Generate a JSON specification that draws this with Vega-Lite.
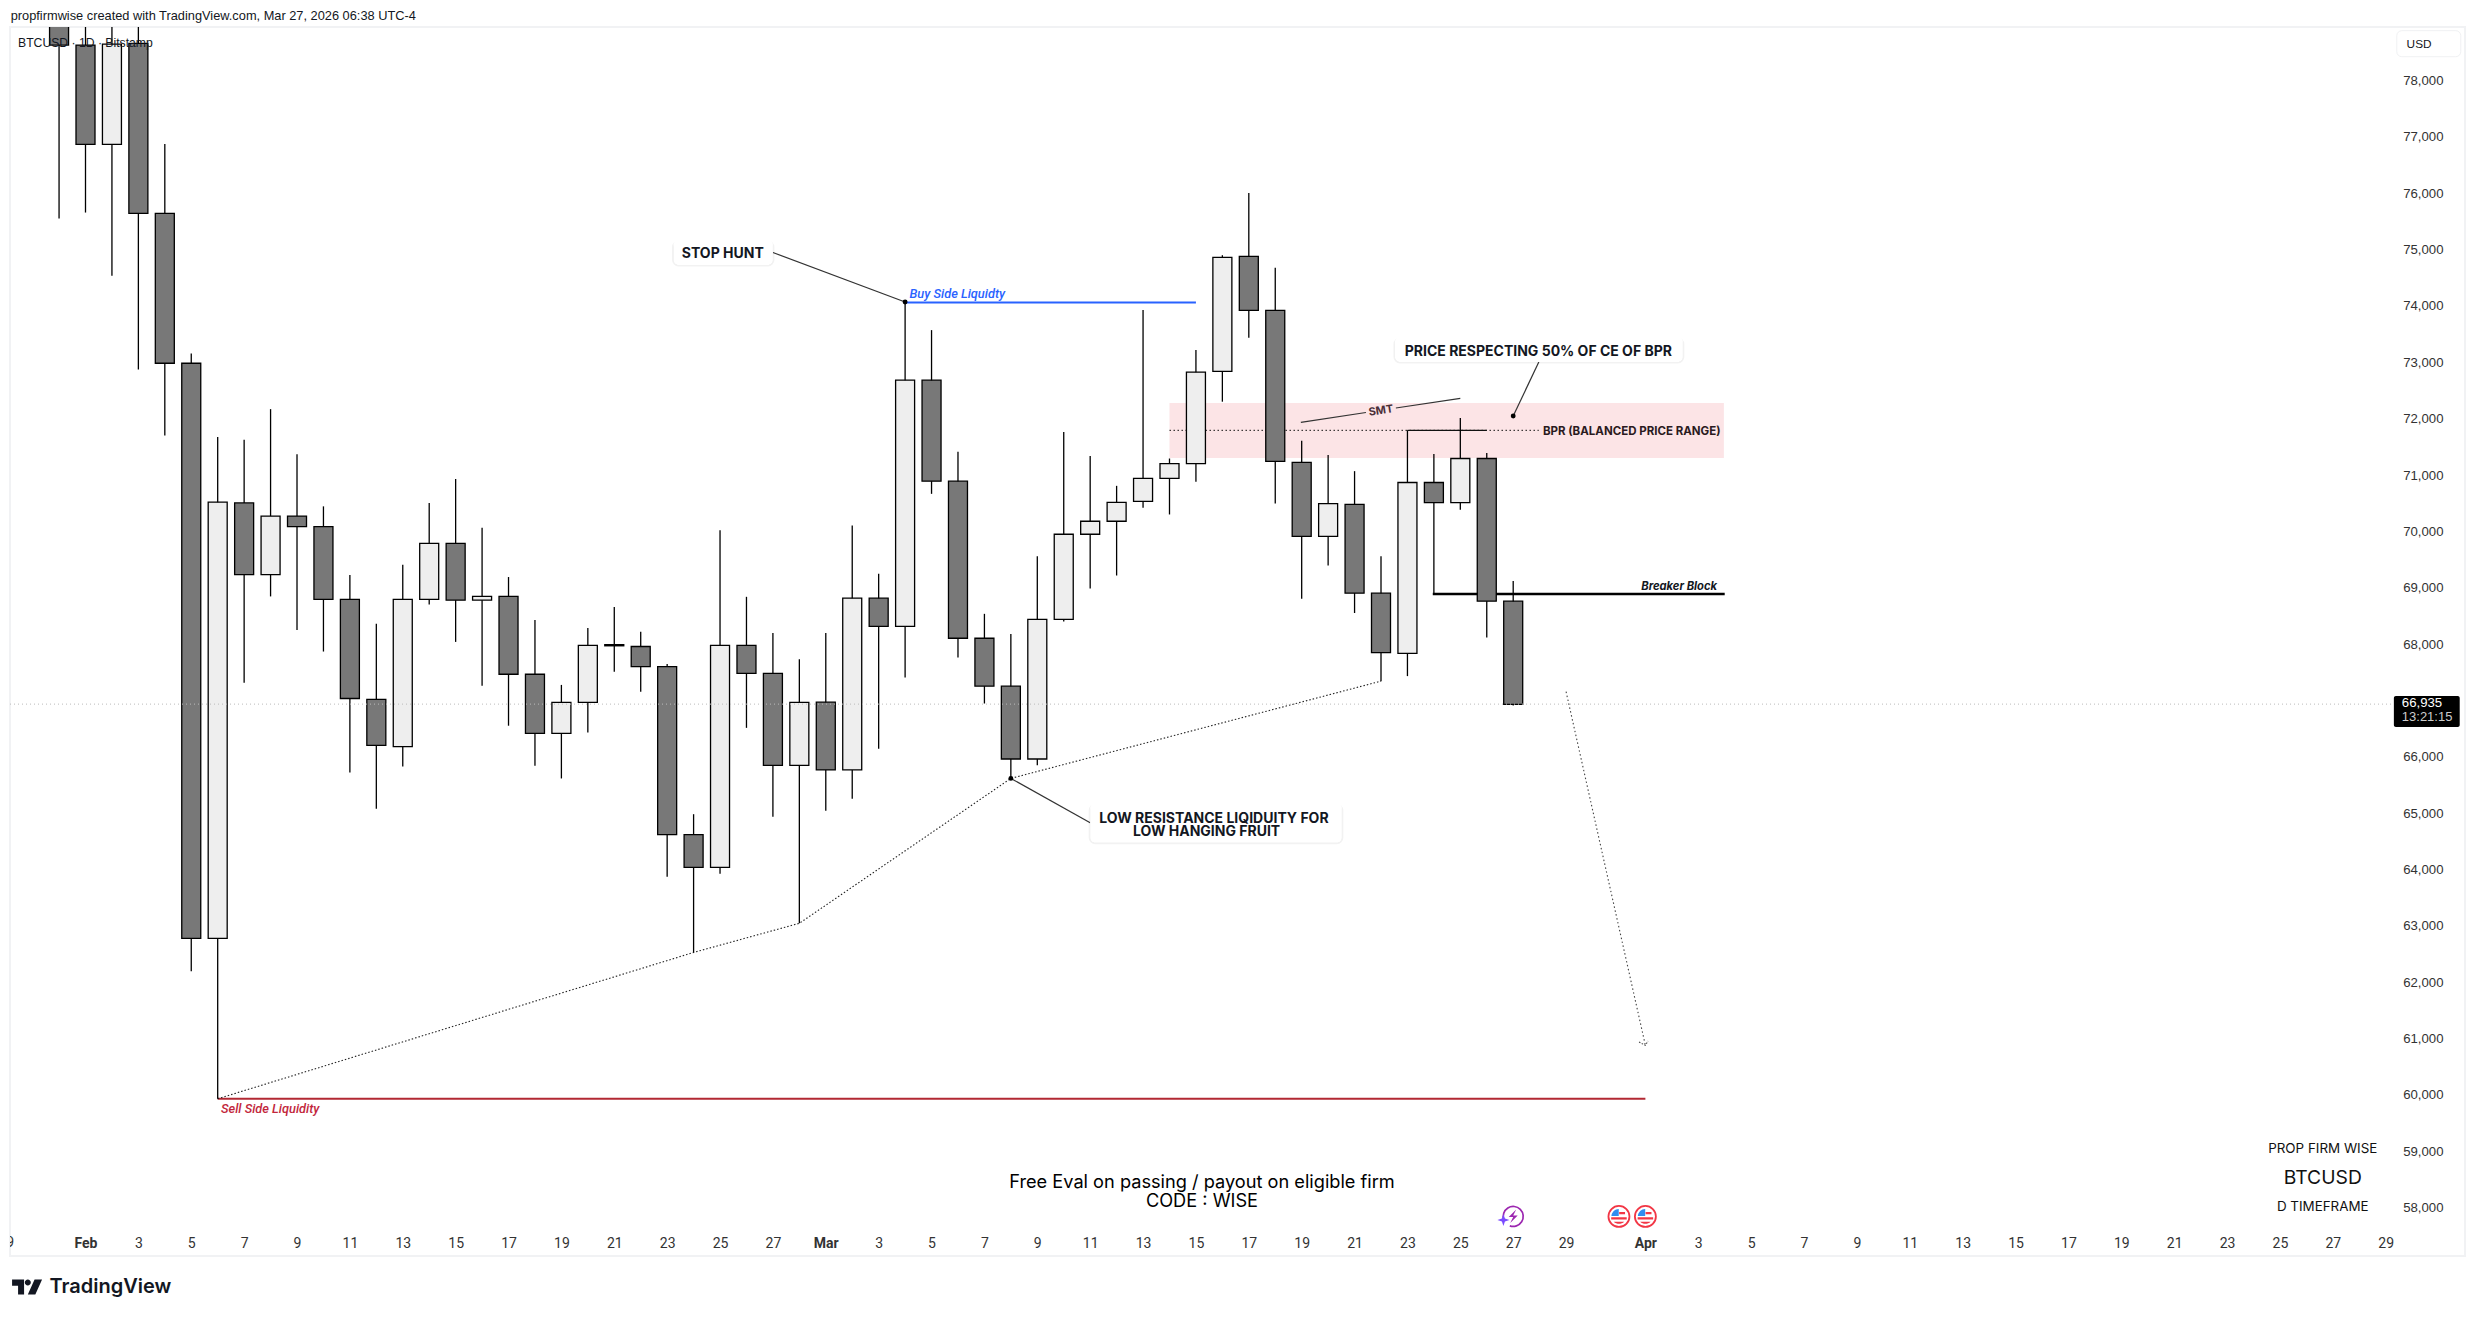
{
  "$schema": "https://vega.github.io/schema/vega-lite/v6.json",
  "width": 2455,
  "height": 1229,
  "autosize": "none",
  "padding": {"left": 10, "top": 27, "right": 10, "bottom": 61},
  "background": "white",
  "config": {
    "view": {"stroke": "#f1f2f4", "strokeWidth": 2},
    "text": {"font": "Inter", "baseline": "middle"}
  },
  "data": {"name": "candles", "values": [
    {"date": "2026-01-31", "open": 79800, "high": 80000, "low": 75552, "close": 78629},
    {"date": "2026-02-01", "open": 78629, "high": 79300, "low": 75657, "close": 76866},
    {"date": "2026-02-02", "open": 76866, "high": 79300, "low": 74536, "close": 78644},
    {"date": "2026-02-03", "open": 78659, "high": 79300, "low": 72871, "close": 75642},
    {"date": "2026-02-04", "open": 75642, "high": 76874, "low": 71699, "close": 72983},
    {"date": "2026-02-05", "open": 72983, "high": 73155, "low": 62197, "close": 62778},
    {"date": "2026-02-06", "open": 62778, "high": 71676, "low": 59933, "close": 70519},
    {"date": "2026-02-07", "open": 70504, "high": 71624, "low": 67314, "close": 69234},
    {"date": "2026-02-08", "open": 69234, "high": 72169, "low": 68846, "close": 70272},
    {"date": "2026-02-09", "open": 70272, "high": 71370, "low": 68248, "close": 70086},
    {"date": "2026-02-10", "open": 70086, "high": 70444, "low": 67868, "close": 68794},
    {"date": "2026-02-11", "open": 68794, "high": 69227, "low": 65721, "close": 67035},
    {"date": "2026-02-12", "open": 67020, "high": 68360, "low": 65080, "close": 66204},
    {"date": "2026-02-13", "open": 66182, "high": 69406, "low": 65827, "close": 68794},
    {"date": "2026-02-14", "open": 68794, "high": 70504, "low": 68704, "close": 69787},
    {"date": "2026-02-15", "open": 69787, "high": 70929, "low": 68039, "close": 68779},
    {"date": "2026-02-16", "open": 68779, "high": 70063, "low": 67261, "close": 68846},
    {"date": "2026-02-17", "open": 68846, "high": 69190, "low": 66552, "close": 67465},
    {"date": "2026-02-18", "open": 67465, "high": 68428, "low": 65842, "close": 66416},
    {"date": "2026-02-19", "open": 66416, "high": 67276, "low": 65616, "close": 66967},
    {"date": "2026-02-20", "open": 66967, "high": 68286, "low": 66431, "close": 67979},
    {"date": "2026-02-21", "open": 67990, "high": 68659, "low": 67510, "close": 67970},
    {"date": "2026-02-22", "open": 67957, "high": 68219, "low": 67155, "close": 67601},
    {"date": "2026-02-23", "open": 67601, "high": 67646, "low": 63872, "close": 64620},
    {"date": "2026-02-24", "open": 64620, "high": 64982, "low": 62529, "close": 64038},
    {"date": "2026-02-25", "open": 64038, "high": 70018, "low": 63925, "close": 67979},
    {"date": "2026-02-26", "open": 67979, "high": 68839, "low": 66514, "close": 67480},
    {"date": "2026-02-27", "open": 67480, "high": 68196, "low": 64937, "close": 65850},
    {"date": "2026-02-28", "open": 65850, "high": 67730, "low": 63046, "close": 66967},
    {"date": "2026-03-01", "open": 66969, "high": 68197, "low": 65044, "close": 65767},
    {"date": "2026-03-02", "open": 65767, "high": 70105, "low": 65257, "close": 68814},
    {"date": "2026-03-03", "open": 68814, "high": 69247, "low": 66144, "close": 68313},
    {"date": "2026-03-04", "open": 68313, "high": 74071, "low": 67409, "close": 72682},
    {"date": "2026-03-05", "open": 72682, "high": 73571, "low": 70666, "close": 70890},
    {"date": "2026-03-06", "open": 70890, "high": 71413, "low": 67761, "close": 68104},
    {"date": "2026-03-07", "open": 68104, "high": 68537, "low": 66946, "close": 67253},
    {"date": "2026-03-08", "open": 67253, "high": 68179, "low": 65617, "close": 65961},
    {"date": "2026-03-09", "open": 65961, "high": 69560, "low": 65849, "close": 68440},
    {"date": "2026-03-10", "open": 68440, "high": 71763, "low": 68403, "close": 69949},
    {"date": "2026-03-11", "open": 69949, "high": 71338, "low": 68985, "close": 70180},
    {"date": "2026-03-12", "open": 70180, "high": 70808, "low": 69217, "close": 70516},
    {"date": "2026-03-13", "open": 70531, "high": 73929, "low": 70419, "close": 70942},
    {"date": "2026-03-14", "open": 70942, "high": 71293, "low": 70300, "close": 71203},
    {"date": "2026-03-15", "open": 71203, "high": 73220, "low": 70882, "close": 72824},
    {"date": "2026-03-16", "open": 72839, "high": 74900, "low": 72301, "close": 74863},
    {"date": "2026-03-17", "open": 74878, "high": 76005, "low": 73436, "close": 73922},
    {"date": "2026-03-18", "open": 73922, "high": 74676, "low": 70494, "close": 71241},
    {"date": "2026-03-19", "open": 71226, "high": 71607, "low": 68806, "close": 69911},
    {"date": "2026-03-20", "open": 69911, "high": 71353, "low": 69396, "close": 70494},
    {"date": "2026-03-21", "open": 70479, "high": 71069, "low": 68552, "close": 68903},
    {"date": "2026-03-22", "open": 68903, "high": 69560, "low": 67343, "close": 67850},
    {"date": "2026-03-23", "open": 67835, "high": 71793, "low": 67432, "close": 70867},
    {"date": "2026-03-24", "open": 70867, "high": 71375, "low": 68903, "close": 70509},
    {"date": "2026-03-25", "open": 70509, "high": 72010, "low": 70382, "close": 71293},
    {"date": "2026-03-26", "open": 71293, "high": 71390, "low": 68119, "close": 68761},
    {"date": "2026-03-27", "open": 68761, "high": 69120, "low": 66910, "close": 66932}
  ]},
  "encoding": {
    "x": {
      "field": "date",
      "type": "temporal",
      "title": null,
      "scale": {"type": "utc", "domain": ["2026-01-29T03:28:00Z", "2026-05-02T00:00:00Z"], "nice": false, "padding": 0},
      "axis": {
        "orient": "bottom",
        "offset": -13,
        "grid": false,
        "domain": false,
        "ticks": false,
        "labelPadding": 0,
        "labelBaseline": "middle",
        "labelFont": "Roboto",
        "labelFontSize": 14,
        "labelColor": "#333333",
        "labelOverlap": false,
        "labelBound": false,
        "labelFlush": false,
        "values": ["2026-02-01","2026-02-03","2026-02-05","2026-02-07","2026-02-09","2026-02-11","2026-02-13","2026-02-15","2026-02-17","2026-02-19","2026-02-21","2026-02-23","2026-02-25","2026-02-27","2026-03-01","2026-03-03","2026-03-05","2026-03-07","2026-03-09","2026-03-11","2026-03-13","2026-03-15","2026-03-17","2026-03-19","2026-03-21","2026-03-23","2026-03-25","2026-03-27","2026-03-29","2026-04-01","2026-04-03","2026-04-05","2026-04-07","2026-04-09","2026-04-11","2026-04-13","2026-04-15","2026-04-17","2026-04-19","2026-04-21","2026-04-23","2026-04-25","2026-04-27","2026-04-29"],
        "labelExpr": "utcdate(datum.value) == 1 ? utcFormat(datum.value, '%b') : utcFormat(datum.value, '%-d')",
        "labelFontWeight": {"condition": {"test": "utcdate(datum.value) == 1", "value": "bold"}, "value": "normal"}
      }
    },
    "y": {
      "field": "price",
      "type": "quantitative",
      "title": null,
      "scale": {"domain": [57143.1, 78949.2], "nice": false, "zero": false},
      "axis": {
        "orient": "right",
        "offset": -22,
        "grid": false,
        "domain": false,
        "ticks": false,
        "labelPadding": 0,
        "labelAlign": "right",
        "labelFont": "Liberation Sans",
        "labelFontSize": 13.2,
        "labelColor": "#333333",
        "labelExpr": "format(datum.value, ',')",
        "values": [58000,59000,60000,61000,62000,63000,64000,65000,66000,67000,68000,69000,70000,71000,72000,73000,74000,75000,76000,77000,78000]
      }
    }
  },
  "layer": [
    {
      "data": {"values": [{"date": "2026-03-14", "date2": "2026-04-03T23:15:00Z", "price": 72278, "price2": 71302}]},
      "mark": {"type": "rect", "fill": "#fce4e6"},
      "encoding": {"x2": {"field": "date2"}, "y2": {"field": "price2"}}
    },
    {
      "data": {"values": [{"date": "2026-03-14", "date2": "2026-03-27T23:15:00Z", "price": 71793}]},
      "mark": {"type": "rule", "color": "#111111", "strokeWidth": 1, "strokeDash": [1.5, 2.5]},
      "encoding": {"x2": {"field": "date2"}}
    },
    {
      "data": {"values": [{"date": "2026-03-23", "date2": "2026-03-26", "price": 71793}]},
      "mark": {"type": "rule", "color": "#111111", "strokeWidth": 1.4},
      "encoding": {"x2": {"field": "date2"}}
    },
    {
      "data": {"values": [{"date": "2026-03-04", "date2": "2026-03-15", "price": 74061}]},
      "mark": {"type": "rule", "color": "#2962ff", "strokeWidth": 2},
      "encoding": {"x2": {"field": "date2"}}
    },
    {
      "data": {"values": [{"date": "2026-02-06", "date2": "2026-04-01", "price": 59933}]},
      "mark": {"type": "rule", "color": "#b22833", "strokeWidth": 2},
      "encoding": {"x2": {"field": "date2"}}
    },
    {
      "data": {"values": [{"date": "2026-03-23T23:00:00Z", "date2": "2026-04-04", "price": 68889}]},
      "mark": {"type": "rule", "color": "#000000", "strokeWidth": 2.5},
      "encoding": {"x2": {"field": "date2"}}
    },
    {
      "data": {"values": [
        {"date": "2026-02-06", "price": 59933},
        {"date": "2026-02-24", "price": 62529},
        {"date": "2026-02-28", "price": 63046},
        {"date": "2026-03-08", "price": 65617},
        {"date": "2026-03-22", "price": 67343}
      ]},
      "mark": {"type": "line", "color": "#222222", "strokeWidth": 1.1, "strokeDash": [1.5, 2]}
    },
    {
      "data": {"values": [
        {"date": "2026-03-29", "price": 67155},
        {"date": "2026-04-01", "price": 60880}
      ]},
      "mark": {"type": "line", "color": "#444444", "strokeWidth": 1.1, "strokeDash": [1.5, 2.5]}
    },
    {
      "data": {"values": [
        {"date": "2026-03-31T18:15:00Z", "price": 60940},
        {"date": "2026-04-01", "price": 60880},
        {"date": "2026-04-01T02:24:00Z", "price": 60958}
      ]},
      "mark": {"type": "line", "color": "#444444", "strokeWidth": 1.1, "strokeDash": [1.5, 1.5]}
    },
    {
      "data": {"values": [
        {"date": "2026-02-27", "date2": "2026-03-04", "price": 74948, "price2": 74071},
        {"date": "2026-03-08", "date2": "2026-03-11", "price": 65617, "price2": 64831},
        {"date": "2026-03-27T23:15:00Z", "date2": "2026-03-27", "price": 73005, "price2": 72047},
        {"date": "2026-03-18T23:15:00Z", "date2": "2026-03-21T10:20:00Z", "price": 71935, "price2": 72109},
        {"date": "2026-03-22T13:30:00Z", "date2": "2026-03-25", "price": 72189, "price2": 72361}
      ]},
      "mark": {"type": "rule", "color": "#333333", "strokeWidth": 1.2},
      "encoding": {"x2": {"field": "date2"}, "y2": {"field": "price2"}}
    },
    {
      "mark": {"type": "rule", "color": "#000000", "strokeWidth": 1.3, "clip": true},
      "encoding": {"y": {"field": "high", "type": "quantitative", "title": null}, "y2": {"field": "low"}}
    },
    {
      "mark": {"type": "bar", "size": 19, "stroke": "#000000", "strokeWidth": 1.3, "clip": true},
      "encoding": {
        "y": {"field": "open", "type": "quantitative", "title": null},
        "y2": {"field": "close"},
        "fill": {"condition": {"test": "datum.close >= datum.open", "value": "#eeeeee"}, "value": "#787878"}
      }
    },
    {
      "data": {"values": [
        {"date": "2026-03-04", "price": 74071},
        {"date": "2026-03-08", "price": 65617},
        {"date": "2026-03-27", "price": 72047}
      ]},
      "mark": {"type": "point", "filled": true, "color": "#000000", "size": 24, "opacity": 1}
    },
    {
      "data": {"name": "boxes", "values": [
        {"date": "2026-02-23T05:45:00Z", "date2": "2026-02-27", "price": 75170, "price2": 74726},
        {"date": "2026-03-11", "date2": "2026-03-20T12:28:00Z", "price": 65175, "price2": 64476},
        {"date": "2026-03-22T12:40:00Z", "date2": "2026-04-02T10:00:00Z", "price": 73449, "price2": 73005}
      ]},
      "mark": {"type": "rect", "fill": "#000000", "fillOpacity": 0.09, "stroke": "#000000", "strokeOpacity": 0.05, "strokeWidth": 3, "cornerRadius": 5, "yOffset": 2},
      "encoding": {"x2": {"field": "date2"}, "y2": {"field": "price2"}}
    },
    {
      "data": {"name": "boxes"},
      "mark": {"type": "rect", "fill": "#ffffff", "cornerRadius": 5},
      "encoding": {"x2": {"field": "date2"}, "y2": {"field": "price2"}}
    },
    {
      "data": {"values": [
        {"date": "2026-02-25T02:30:00Z", "price": 74915, "label": "STOP HUNT"},
        {"date": "2026-03-27T22:50:00Z", "price": 73181, "label": "PRICE RESPECTING 50% OF CE OF BPR"},
        {"date": "2026-03-15T16:20:00Z", "price": 64902, "label": "LOW RESISTANCE LIQIDUITY FOR"},
        {"date": "2026-03-15T09:40:00Z", "price": 64659, "label": "LOW HANGING FRUIT"}
      ]},
      "mark": {"type": "text", "fontSize": 14, "fontWeight": 700, "color": "#131722", "align": "center"},
      "encoding": {"text": {"field": "label"}}
    },
    {
      "data": {"values": [{"date": "2026-03-28T03:00:00Z", "price": 71770, "label": "BPR (BALANCED PRICE RANGE)"}]},
      "mark": {"type": "text", "fontSize": 11.5, "fontWeight": 700, "color": "#2a1a20", "align": "left"},
      "encoding": {"text": {"field": "label"}}
    },
    {
      "data": {"values": [{"date": "2026-03-22", "price": 72136, "label": "SMT"}]},
      "mark": {"type": "text", "fontSize": 11, "fontWeight": 700, "color": "#4a2f38", "align": "center", "angle": 351.4},
      "encoding": {"text": {"field": "label"}}
    },
    {
      "data": {"values": [{"date": "2026-04-03T17:00:00Z", "price": 69016, "label": "Breaker Block"}]},
      "mark": {"type": "text", "font": "Inter", "fontSize": 11.2, "fontWeight": 700, "fontStyle": "italic", "color": "#131722", "align": "right"},
      "encoding": {"text": {"field": "label"}}
    },
    {
      "data": {"values": [{"date": "2026-03-04T04:00:00Z", "price": 74212, "label": "Buy Side Liquidty"}]},
      "mark": {"type": "text", "font": "Roboto", "fontSize": 12.8, "fontWeight": 500, "fontStyle": "italic", "color": "#2962ff", "align": "left"},
      "encoding": {"text": {"field": "label"}}
    },
    {
      "data": {"values": [{"date": "2026-02-06T03:00:00Z", "price": 59751, "label": "Sell Side Liquidity"}]},
      "mark": {"type": "text", "font": "Roboto", "fontSize": 12.8, "fontWeight": 500, "fontStyle": "italic", "color": "#c2263b", "align": "left"},
      "encoding": {"text": {"field": "label"}}
    },
    {
      "data": {"values": [
        {"date": "2026-03-15T05:30:00Z", "price": 58444, "label": "Free Eval on passing / payout on eligible firm"},
        {"date": "2026-03-15T05:30:00Z", "price": 58101, "label": "CODE : WISE"}
      ]},
      "mark": {"type": "text", "font": "Inter", "fontSize": 18.2, "color": "#000000", "align": "center"},
      "encoding": {"text": {"field": "label"}}
    },
    {
      "data": {"values": [
        {"date": "2026-04-26T14:53:00Z", "price": 59042, "label": "PROP FIRM WISE"},
        {"date": "2026-04-26T14:53:00Z", "price": 58013, "label": "D TIMEFRAME"}
      ]},
      "mark": {"type": "text", "font": "Inter", "fontSize": 13.4, "color": "#111111", "align": "center"},
      "encoding": {"text": {"field": "label"}}
    },
    {
      "data": {"values": [{"date": "2026-04-26T14:53:00Z", "price": 58527, "label": "BTCUSD"}]},
      "mark": {"type": "text", "font": "Inter", "fontSize": 19.3, "color": "#111111", "align": "center"},
      "encoding": {"text": {"field": "label"}}
    },
    {
      "data": {"values": [{"date": "2026-01-29", "price": 57372, "label": "29"}]},
      "mark": {"type": "text", "font": "Roboto", "fontSize": 14, "color": "#333333", "align": "center", "clip": true},
      "encoding": {"text": {"field": "label"}}
    },
    {
      "data": {"values": [{"date": "2026-01-29T04:06:00Z", "price": 79150, "label": "propfirmwise created with TradingView.com, Mar 27, 2026 06:38 UTC-4"}]},
      "mark": {"type": "text", "font": "Liberation Sans", "fontSize": 12.8, "color": "#131722", "align": "left"},
      "encoding": {"text": {"field": "label"}}
    },
    {
      "data": {"values": [{"date": "2026-01-29T10:44:00Z", "price": 78671, "label": "BTCUSD · 1D · Bitstamp"}]},
      "mark": {"type": "text", "font": "Liberation Sans", "fontSize": 12.2, "color": "#131722", "align": "left"},
      "encoding": {"text": {"field": "label"}}
    },
    {
      "data": {"values": [{"date": "2026-01-30T15:19:00Z", "price": 56593, "label": "TradingView"}]},
      "mark": {"type": "text", "font": "Inter", "fontSize": 20, "fontWeight": 600, "color": "#131722", "align": "left"},
      "encoding": {"text": {"field": "label"}}
    },
    {
      "data": {"values": [{"date": "2026-01-29T18:58:00Z", "price": 56593}]},
      "mark": {"type": "point", "filled": true, "color": "#131722", "opacity": 1, "size": 900, "shape": "M-1 -0.5 H-0.2 V0.5 H-0.6 V-0.08 H-1 Z M-0.15 -0.3 A0.2 0.2 0 1 1 0.25 -0.3 A0.2 0.2 0 1 1 -0.15 -0.3 Z M0.5 -0.5 H1 L0.55 0.5 H0.05 Z"}
    },
    {
      "data": {"values": [{"date": "2026-01-29T03:28:00Z", "date2": "2026-04-29T05:46:00Z", "price": 66935}]},
      "mark": {"type": "rule", "color": "#bbbbbb", "strokeWidth": 1, "strokeDash": [1, 3]},
      "encoding": {"x2": {"field": "date2"}}
    },
    {
      "data": {"values": [{"date": "2026-04-29T07:26:00Z", "date2": "2026-05-01T19:12:00Z", "price": 67079, "price2": 66529}]},
      "mark": {"type": "rect", "fill": "#000000", "cornerRadius": 2},
      "encoding": {"x2": {"field": "date2"}, "y2": {"field": "price2"}}
    },
    {
      "data": {"values": [{"date": "2026-04-29T14:38:00Z", "price": 66955, "label": "66,935"}]},
      "mark": {"type": "text", "font": "Liberation Sans", "fontSize": 13.2, "color": "#ffffff", "align": "left"},
      "encoding": {"text": {"field": "label"}}
    },
    {
      "data": {"values": [{"date": "2026-04-29T14:38:00Z", "price": 66707, "label": "13:21:15"}]},
      "mark": {"type": "text", "font": "Liberation Sans", "fontSize": 13, "color": "#cccccc", "align": "left"},
      "encoding": {"text": {"field": "label"}}
    },
    {
      "data": {"values": [{"date": "2026-04-29T10:05:00Z", "date2": "2026-05-01T20:10:00Z", "price": 78884, "price2": 78422}]},
      "mark": {"type": "rect", "fill": "#ffffff", "stroke": "#f0f1f3", "strokeWidth": 1, "cornerRadius": 5},
      "encoding": {"x2": {"field": "date2"}, "y2": {"field": "price2"}}
    },
    {
      "data": {"values": [{"date": "2026-04-29T19:00:00Z", "price": 78648, "label": "USD"}]},
      "mark": {"type": "text", "font": "Liberation Sans", "fontSize": 11.8, "color": "#131722", "align": "left"},
      "encoding": {"text": {"field": "label"}}
    },
    {
      "data": {"name": "flags", "values": [
        {"date": "2026-03-31", "price": 57845},
        {"date": "2026-04-01", "price": 57845}
      ]},
      "mark": {"type": "point", "shape": "circle", "filled": true, "fill": "#ffffff", "stroke": "#f23645", "strokeWidth": 1.8, "opacity": 1, "size": 441}
    },
    {
      "data": {"name": "flags"},
      "mark": {"type": "point", "filled": true, "color": "#2f8df0", "opacity": 1, "size": 441, "shape": "M-0.72 -0.05 L-0.02 -0.05 L-0.02 -0.72 A0.72 0.72 0 0 0 -0.72 -0.05 Z"}
    },
    {
      "data": {"name": "flags"},
      "mark": {"type": "point", "filled": true, "color": "#f23645", "opacity": 1, "size": 441, "shape": "M-0.74 0.08 H0.74 V0.3 H-0.74 Z M-0.5 0.5 H0.5 A0.72 0.72 0 0 1 -0.5 0.5 Z M0.02 -0.42 H0.58 V-0.2 H0.02 Z"}
    },
    {
      "data": {"values": [{"date": "2026-03-27", "price": 57845}]},
      "mark": {"type": "point", "filled": false, "color": "#9c27b0", "strokeWidth": 1.7, "opacity": 1, "size": 400, "shape": "M-0.94 0.34 A1 1 0 1 1 -0.34 0.94"}
    },
    {
      "data": {"values": [{"date": "2026-03-27", "price": 57845}]},
      "mark": {"type": "point", "filled": true, "color": "#9c27b0", "opacity": 1, "size": 400, "shape": "M0.3 -0.7 L-0.45 0.05 L0 0.05 L-0.3 0.65 L0.45 -0.1 L0 -0.1 Z"}
    },
    {
      "data": {"values": [{"date": "2026-03-26T15:07:00Z", "price": 57782}]},
      "mark": {"type": "point", "filled": true, "color": "#7b4dff", "opacity": 1, "size": 144, "shape": "M0 -1 L0.25 -0.25 L1 0 L0.25 0.25 L0 1 L-0.25 0.25 L-1 0 L-0.25 -0.25 Z"}
    }
  ]
}
